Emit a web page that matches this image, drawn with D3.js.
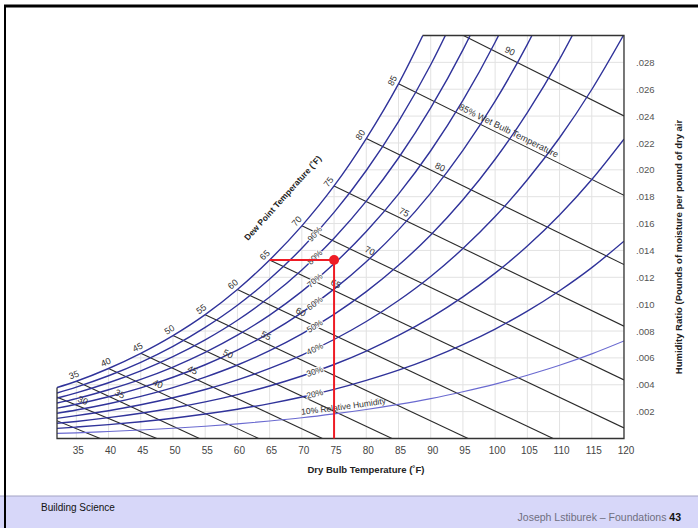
<!doctype html>
<html lang="en">
<head>
<meta charset="UTF-8">
<title>Psychrometric Chart</title>
<script src="https://cdn.jsdelivr.net/npm/d3@7"></script>
<style>
    body { margin: 0; background: #fff; }
    text { font-family: "Liberation Sans", Arial, sans-serif; }
</style>
</head>
<body>
<svg id="chart" width="698" height="528"></svg>
<script>

// dry bulb temperatures (F) the curves are read at
const dryBulb = [32, 35, 40, 45, 50, 55, 60, 65, 70, 75, 80, 85, 90, 95, 100, 105, 110, 115, 120];

// humidity ratio along each relative humidity curve (thousandths of lb/lb)
const rh100 = [3.79, 4.26, 5.21, 6.34, 7.66, 9.22, 11.09, 13.29, 15.83, 18.80, 22.33, 26.40, 31.22];
const rh90 = [3.39, 3.83, 4.67, 5.67, 6.86, 8.27, 9.92, 11.87, 14.16, 16.83, 19.95, 23.59, 27.82, 32.74];
const rh80 = [3.01, 3.40, 4.15, 5.04, 6.09, 7.34, 8.80, 10.53, 12.55, 14.91, 17.67, 20.88, 24.61, 28.93, 33.94];
const rh70 = [2.64, 2.97, 3.63, 4.40, 5.32, 6.41, 7.69, 9.19, 10.95, 13.01, 15.41, 18.19, 21.42, 25.17, 29.50, 34.50];
const rh60 = [2.26, 2.55, 3.11, 3.77, 4.56, 5.49, 6.58, 7.86, 9.37, 11.12, 13.16, 15.53, 18.27, 21.45, 25.11, 29.34, 34.20];
const rh50 = [1.88, 2.12, 2.59, 3.14, 3.79, 4.57, 5.47, 6.54, 7.79, 9.24, 10.93, 12.89, 15.15, 17.77, 20.79, 24.26, 28.24, 32.82];
const rh40 = [1.50, 1.70, 2.07, 2.51, 3.03, 3.65, 4.37, 5.22, 6.21, 7.37, 8.71, 10.27, 12.06, 14.14, 16.52, 19.26, 22.39, 25.98, 30.08];
const rh30 = [1.13, 1.27, 1.55, 1.88, 2.27, 2.73, 3.27, 3.91, 4.65, 5.51, 6.51, 7.67, 9.00, 10.54, 12.31, 14.33, 16.64, 19.28, 22.29];
const rh20 = [0.75, 0.85, 1.03, 1.25, 1.51, 1.82, 2.18, 2.60, 3.09, 3.66, 4.33, 5.09, 5.97, 6.99, 8.15, 9.48, 11.00, 12.72, 14.69];
const rh10 = [0.38, 0.42, 0.52, 0.63, 0.76, 0.91, 1.09, 1.30, 1.54, 1.83, 2.16, 2.54, 2.97, 3.48, 4.05, 4.71, 5.45, 6.30, 7.26];
const rhLabels = ["100%", "90%", "80%", "70%", "60%", "50%", "40%", "30%", "20%", "10%"];

// wet bulb lines: start on saturation, end on bottom or right edge
const wetBulb = [25, 30, 35, 40, 45, 50, 55, 60, 65, 70, 75, 80, 85, 90];
const wbStartW = [2.70, 3.47, 4.26, 5.21, 6.34, 7.66, 9.22, 11.09, 13.29, 15.83, 18.80, 22.33, 26.40, 31.22];
const wbEndT = [38.7, 47.5, 54.1, 63.3, 73.2, 84.0, 95.8, 109.0, 120, 120, 120, 120, 120, 120];
const wbEndW = [0, 0, 0, 0, 0, 0, 0, 0, 0.79, 4.36, 8.36, 12.95, 18.10, 24.01];

// dew point labels along the saturation curve
const dewPoints = [35, 40, 45, 50, 55, 60, 65, 70, 75, 80, 85];

// axis ticks
const xTicks = [35, 40, 45, 50, 55, 60, 65, 70, 75, 80, 85, 90, 95, 100, 105, 110, 115, 120];
const yTicks = [2, 4, 6, 8, 10, 12, 14, 16, 18, 20, 22, 24, 26, 28];

// the marked condition: 75F dry bulb, 65F dew point
const markDryBulb = 75;
const markDewPoint = 65;

let svg = d3.select("#chart");

let x = d3.scaleLinear().domain([32, 120]).range([57, 624]);
let y = d3.scaleLinear().domain([0, 30]).range([438.5, 35.5]);

const blue = "#30339a";
const dark = "#2a2a2a";

let pts = function (arr) { return arr.map(function (w, i) { return [dryBulb[i], w]; }); };
let line = d3.line().x(d => x(d[0])).y(d => y(d[1])).curve(d3.curveMonotoneX);

//slide frame
svg.append("rect").attr("width", 698).attr("height", 528).attr("fill", "#fff");

//footer band
svg.append("rect").attr("x", 0).attr("y", 496).attr("width", 698).attr("height", 32).attr("fill", "#d7d7f9");
svg.append("line").attr("x1", 0).attr("x2", 698).attr("y1", 496).attr("y2", 496)
    .attr("stroke", "#a3a3c4").attr("stroke-width", 1);
svg.append("line").attr("x1", 4).attr("x2", 698).attr("y1", 6).attr("y2", 6)
    .attr("stroke", "#000").attr("stroke-width", 3);
svg.append("line").attr("x1", 5).attr("x2", 5).attr("y1", 5).attr("y2", 528)
    .attr("stroke", "#000").attr("stroke-width", 2);

svg.append("text").attr("x", 41).attr("y", 511).attr("font-size", 10).attr("fill", "#111")
    .text("Building Science");
let foot = svg.append("text").attr("x", 681).attr("y", 521).attr("text-anchor", "end")
    .attr("font-size", 10.5).attr("fill", "#6f6f80");
foot.append("tspan").text("Joseph Lstiburek \u2013 Foundations ");
foot.append("tspan").attr("font-weight", "bold").attr("fill", "#111").text("43");

//clip paths: plot rectangle, then area under the saturation curve
let defs = svg.append("defs");
defs.append("clipPath").attr("id", "frame").append("rect")
    .attr("x", x(32)).attr("y", y(30)).attr("width", x(120) - x(32)).attr("height", y(0) - y(30));
let sat = pts(rh100);
let underPath = line(sat) +
    "L" + x(120) + "," + (y(30) - 20) +
    "L" + x(120) + "," + (y(0) + 5) +
    "L" + x(32) + "," + (y(0) + 5) + "Z";
defs.append("clipPath").attr("id", "under").append("path").attr("d", underPath);

let plot = svg.append("g").attr("clip-path", "url(#frame)");
let inner = plot.append("g").attr("clip-path", "url(#under)");

//grid
inner.selectAll(".vgrid").data(xTicks).enter().append("line")
    .attr("x1", d => x(d)).attr("x2", d => x(d)).attr("y1", y(0)).attr("y2", y(30))
    .attr("stroke", "#e2e2e2").attr("stroke-width", 1);
inner.selectAll(".hgrid").data(yTicks).enter().append("line")
    .attr("x1", x(32)).attr("x2", x(120)).attr("y1", d => y(d)).attr("y2", d => y(d))
    .attr("stroke", "#e2e2e2").attr("stroke-width", 1);

//wet bulb lines
inner.selectAll(".wb").data(wetBulb).enter().append("line")
    .attr("x1", d => x(d))
    .attr("y1", (d, i) => y(wbStartW[i]))
    .attr("x2", (d, i) => x(wbEndT[i]))
    .attr("y2", (d, i) => y(wbEndW[i]))
    .attr("stroke", dark).attr("stroke-width", 1.1);

//relative humidity curves
let rhSeries = [rh100, rh90, rh80, rh70, rh60, rh50, rh40, rh30, rh20, rh10];
plot.selectAll(".rh").data(rhSeries).enter().append("path")
    .attr("d", d => line(pts(d)))
    .attr("fill", "none")
    .attr("stroke", (d, i) => i === 9 ? "#6a6ad0" : blue)
    .attr("stroke-width", (d, i) => i === 9 ? 1.1 : 1.4);

//frame of the plot
let topT = 0;
for (let i = 1; i < sat.length; i++) {
    if (sat[i][1] >= 30) {
        topT = sat[i - 1][0] + (30 - sat[i - 1][1]) / (sat[i][1] - sat[i - 1][1]) * (sat[i][0] - sat[i - 1][0]);
        break;
    }
}
let framePath = "M" + x(32) + "," + y(rh100[0]) +
    "L" + x(32) + "," + y(0) +
    "L" + x(120) + "," + y(0) +
    "L" + x(120) + "," + y(30) +
    "L" + x(topT) + "," + y(30);
svg.append("path").attr("d", framePath).attr("fill", "none")
    .attr("stroke", "#333").attr("stroke-width", 1.3);

//axes
let xAxis = svg.append("g").attr("transform", "translate(1.5," + y(0) + ")")
    .call(d3.axisBottom(x).tickValues(xTicks).tickSize(0).tickPadding(8));
xAxis.select(".domain").remove();
xAxis.selectAll("text").attr("font-size", 10).attr("fill", "#444")
    .style("font-family", '"Liberation Sans", Arial, sans-serif');

let yAxis = svg.append("g").attr("transform", "translate(" + x(120) + ",0)")
    .call(d3.axisRight(y).tickValues(yTicks).tickSize(0).tickPadding(12)
        .tickFormat(d => "." + d3.format("03d")(d)));
yAxis.select(".domain").remove();
yAxis.selectAll("text").attr("font-size", 9.5).attr("fill", "#555")
    .style("font-family", '"Liberation Sans", Arial, sans-serif');

svg.append("text").attr("x", 366).attr("y", 473).attr("text-anchor", "middle")
    .attr("font-size", 9.5).attr("font-weight", "bold").attr("fill", "#222")
    .text("Dry Bulb Temperature (\u02DAF)");
svg.append("text").attr("transform", "translate(682,247) rotate(-90)").attr("text-anchor", "middle")
    .attr("font-size", 9.5).attr("font-weight", "bold").attr("fill", "#222")
    .text("Humidity Ratio (Pounds of moisture per pound of dry air");
svg.append("text").attr("transform", "translate(285,200) rotate(-48)").attr("text-anchor", "middle")
    .attr("font-size", 8.5).attr("font-weight", "bold").attr("fill", "#222")
    .text("Dew Point Temperature (\u02DAF)");

//dew point labels just outside the saturation curve
dewPoints.forEach(function (t) {
    let i = dryBulb.indexOf(t);
    let dx = x(dryBulb[i + 1]) - x(dryBulb[i - 1]);
    let dy = y(rh100[i + 1]) - y(rh100[i - 1]);
    let a = Math.atan2(dy, dx);
    let px = x(t) + Math.sin(a) * 7;
    let py = y(rh100[i]) - Math.cos(a) * 7;
    svg.append("text")
        .attr("transform", "translate(" + px + "," + py + ") rotate(" + (a * 180 / Math.PI) + ")")
        .attr("text-anchor", "middle").attr("dy", "0.35em")
        .attr("font-size", 9).attr("fill", "#333").text(t);
});

//wet bulb labels, placed along each line
const wbLabelAt = {30: 35.6, 35: 41.3, 40: 47.2, 45: 52.6, 50: 58.1, 55: 64.0, 60: 69.4,
    65: 74.8, 70: 80.1, 75: 85.4, 80: 91.0, 85: 94.0, 90: 101.8};
wetBulb.forEach(function (t, i) {
    if (!(t in wbLabelAt)) return;
    let x1 = x(t), y1 = y(wbStartW[i]), x2 = x(wbEndT[i]), y2 = y(wbEndW[i]);
    let f = (x(wbLabelAt[t]) - x1) / (x2 - x1);
    let a = Math.atan2(y2 - y1, x2 - x1);
    let px = x1 + f * (x2 - x1) + Math.sin(a) * 7;
    let py = y1 + f * (y2 - y1) - Math.cos(a) * 7;
    let lbl = t === 85 ? "85% Wet Bulb Temperature" : t;
    svg.append("text")
        .attr("transform", "translate(" + px + "," + py + ") rotate(" + (a * 180 / Math.PI) + ")")
        .attr("text-anchor", t === 85 ? "start" : "middle").attr("dy", "0.35em")
        .attr("font-size", 9).attr("fill", "#333").text(lbl);
});

//relative humidity labels at 72F
rhSeries.forEach(function (arr, k) {
    if (k === 0 || k === 9) return;
    let i = dryBulb.indexOf(70);
    let w = arr[i] + 0.4 * (arr[i + 1] - arr[i]);
    let a = Math.atan2(y(arr[i + 1]) - y(arr[i]), x(75) - x(70));
    svg.append("text")
        .attr("transform", "translate(" + x(72) + "," + y(w) + ") rotate(" + (a * 180 / Math.PI) + ")")
        .attr("text-anchor", "middle").attr("dy", "0.35em")
        .attr("font-size", 8.5).attr("fill", "#333")
        .attr("stroke", "#fff").attr("stroke-width", 2).attr("paint-order", "stroke")
        .text(rhLabels[k]);
});

//10% label follows its curve
defs.append("path").attr("id", "rh10path").attr("d", line(pts(rh10).slice(8)));
svg.append("text").attr("font-size", 8.5).attr("fill", "#333").attr("dy", -3)
    .append("textPath").attr("href", "#rh10path").attr("startOffset", 0)
    .text("10% Relative Humidity");

//red marker
let markW = rh100[dryBulb.indexOf(markDewPoint)];
svg.append("line").attr("x1", x(markDewPoint)).attr("x2", x(markDryBulb))
    .attr("y1", y(markW)).attr("y2", y(markW))
    .attr("stroke", "#ee1c25").attr("stroke-width", 2);
svg.append("line").attr("x1", x(markDryBulb)).attr("x2", x(markDryBulb))
    .attr("y1", y(markW)).attr("y2", y(0))
    .attr("stroke", "#ee1c25").attr("stroke-width", 2);
svg.append("circle").attr("cx", x(markDryBulb)).attr("cy", y(markW)).attr("r", 5)
    .attr("fill", "#ee1c25");

</script>
</body>
</html>
